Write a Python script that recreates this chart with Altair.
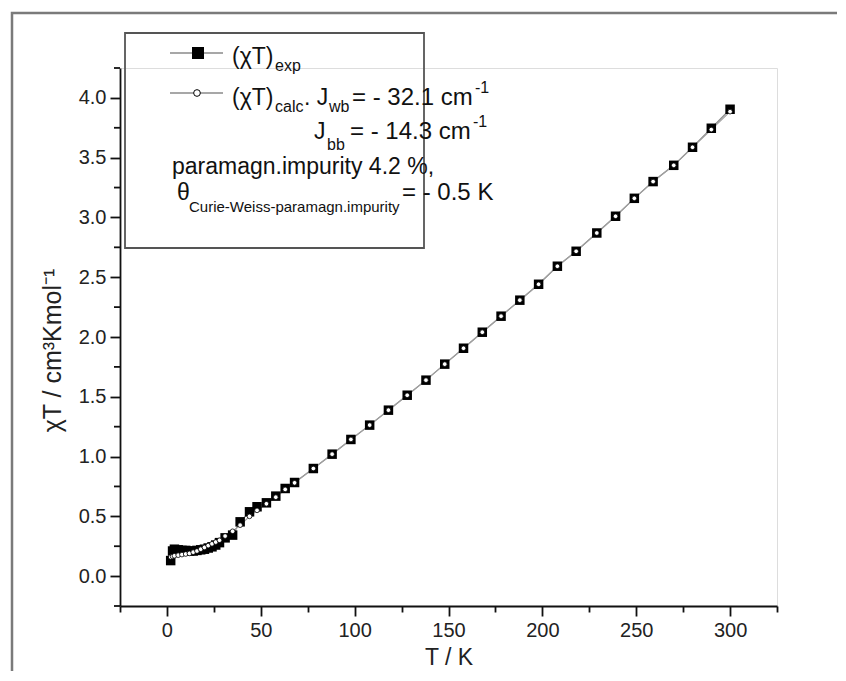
import altair as alt
import pandas as pd

# ---------------- data ----------------
T_K = [2, 3, 4, 6, 8, 10, 12, 14, 16, 18, 20, 22, 24, 26, 28, 31, 35, 39, 44, 48,
       53, 58, 63, 68, 78, 88, 98, 108, 118, 128, 138, 148, 158, 168, 178, 188,
       198, 208, 218, 229, 239, 249, 259, 270, 280, 290, 300]
chiT_exp = [0.13, 0.21, 0.225, 0.22, 0.215, 0.215, 0.21, 0.21, 0.215, 0.22, 0.225,
            0.235, 0.245, 0.26, 0.28, 0.32, 0.343, 0.454, 0.538, 0.58, 0.613, 0.669,
            0.733, 0.783, 0.900, 1.020, 1.143, 1.263, 1.388, 1.513, 1.639, 1.773,
            1.906, 2.040, 2.174, 2.308, 2.441, 2.592, 2.717, 2.87, 3.01, 3.16, 3.30,
            3.436, 3.587, 3.746, 3.905]
chiT_calc = [0.16, 0.165, 0.17, 0.175, 0.18, 0.185, 0.19, 0.20, 0.21, 0.225, 0.24,
             0.255, 0.27, 0.285, 0.30, 0.335, 0.375, 0.426, 0.50, 0.55, 0.605, 0.66,
             0.725, 0.78, 0.900, 1.020, 1.143, 1.263, 1.388, 1.513, 1.639, 1.773,
             1.906, 2.040, 2.174, 2.308, 2.441, 2.592, 2.717, 2.87, 3.01, 3.16, 3.30,
             3.436, 3.587, 3.735, 3.885]

x_ticks = [-25 + 25 * i for i in range(15)]
y_major = [0.5 * i for i in range(9)]
y_minor = [-0.25 + 0.5 * i for i in range(10)]

FONT = "Liberation Sans"
W, H = 657, 538

df = pd.DataFrame({"T": T_K, "exp": chiT_exp, "calc": chiT_calc})
dummy = pd.DataFrame({"a": [0]})
minor_df = pd.DataFrame({"v": y_minor})

xenc = alt.X("T:Q",
             scale=alt.Scale(domain=[-25, 325], nice=False, zero=False),
             axis=alt.Axis(values=x_ticks, grid=False, title="T / K",
                           labelExpr="datum.value >= 0 && datum.value % 50 == 0 ? datum.label : ''",
                           format="d",
                           tickSize={"condition": {"test": "datum.value % 50 == 0", "value": 10}, "value": 6},
                           labelFont=FONT, labelFontSize=20, labelColor="#222",
                           labelPadding=4, labelFlush=False, labelOverlap=False,
                           titleFont=FONT, titleFontSize=23, titleFontWeight="normal",
                           titleColor="#222", titleX=W / 2, titleY=58,
                           titleBaseline="alphabetic", titleAlign="center",
                           domainColor="#111", domainWidth=1.8,
                           tickColor="#111", tickWidth=1.8))

yaxis = alt.Axis(values=y_major, grid=False, title="χT / cm³Kmol⁻¹", format=".1f",
                 tickSize=10,
                 labelFont=FONT, labelFontSize=20, labelColor="#222",
                 labelPadding=4, labelFlush=False, labelOverlap=False,
                 titleFont=FONT, titleFontSize=25, titleFontWeight="normal",
                 titleColor="#222", titleX=-68, titleY=282, titleAngle=270,
                 titleBaseline="middle", titleAlign="center",
                 domainColor="#111", domainWidth=1.8,
                 tickColor="#111", tickWidth=1.8)

yscale = alt.Scale(domain=[-0.25, 4.25], nice=False, zero=False)

base = alt.Chart(df)
line_exp = base.mark_line(color="#8a8a8a", strokeWidth=1.2).encode(
    x=xenc, y=alt.Y("exp:Q", scale=yscale, axis=yaxis), order="T:Q")
line_calc = base.mark_line(color="#a0a0a0", strokeWidth=1.2).encode(
    x="T:Q", y="calc:Q", order="T:Q")
pts_exp = base.mark_point(shape="square", filled=True, color="#000", size=90, opacity=1).encode(
    x="T:Q", y="exp:Q")
pts_calc = base.mark_point(shape="circle", filled=True, fill="#fff", stroke="#000",
                           strokeWidth=0.8, size=22, opacity=1).encode(
    x="T:Q", y="calc:Q")

# minor ticks on the y axis (positioned by the y scale)
y_minor_ticks = alt.Chart(minor_df).mark_tick(orient="horizontal", size=6, thickness=1.8,
                                              color="#111", opacity=1).encode(
    y=alt.Y("v:Q"), x=alt.value(-3))

OX, OY = 120, 68  # page position of plot origin


def px(x):
    return x - OX


def py(y):
    return y - OY


def txt(s, x, y, size=23):
    return alt.Chart(dummy).mark_text(text=s, font=FONT, fontSize=size, align="left",
                                      baseline="alphabetic", color="#111").encode(
        x=alt.value(px(x)), y=alt.value(py(y)))


frame = alt.Chart(dummy).mark_rect(fill=None, stroke="#7a7a7a", strokeWidth=2.5).encode(
    x=alt.value(px(12)), y=alt.value(py(13)), x2=alt.value(px(900)), y2=alt.value(py(720)))
legbox = alt.Chart(dummy).mark_rect(fill=None, stroke="#555", strokeWidth=1.8).encode(
    x=alt.value(px(125)), y=alt.value(py(33)), x2=alt.value(px(424)), y2=alt.value(py(248)))

leg_l1 = alt.Chart(dummy).mark_rule(color="#8a8a8a", strokeWidth=1.5).encode(
    x=alt.value(px(170)), x2=alt.value(px(223)), y=alt.value(py(53)))
leg_l2 = alt.Chart(dummy).mark_rule(color="#8a8a8a", strokeWidth=1.5).encode(
    x=alt.value(px(170)), x2=alt.value(px(223)), y=alt.value(py(93)))
leg_s1 = alt.Chart(dummy).mark_point(shape="square", filled=True, color="#000", size=144, opacity=1).encode(
    x=alt.value(px(198)), y=alt.value(py(53)))
leg_s2 = alt.Chart(dummy).mark_point(shape="circle", filled=True, fill="#fff", stroke="#000",
                                     strokeWidth=1, size=45, opacity=1).encode(
    x=alt.value(px(197)), y=alt.value(py(93)))

texts = [
    txt("(χT)", 232, 64), txt("exp", 275, 71, 16),
    txt("(χT)", 232, 105), txt("calc", 275, 112, 16), txt(". J", 304, 105),
    txt("wb", 329, 112, 16), txt("= - 32.1 cm", 352, 105, 24), txt("-1", 475, 93, 16),
    txt("J", 314, 139), txt("bb", 327, 150, 16), txt("= - 14.3 cm", 350, 139, 24),
    txt("-1", 473, 127, 16),
    txt("paramagn.impurity 4.2 %,", 172, 174),
    txt("θ", 177, 200), txt("Curie-Weiss-paramagn.impurity", 189, 212, 15),
    txt("= - 0.5 K", 402, 200, 24),
]

chart = alt.layer(line_exp, line_calc, pts_exp, pts_calc, y_minor_ticks, frame, legbox,
                  leg_l1, leg_l2, leg_s1, leg_s2, *texts).properties(
    width=W, height=H,
    autosize=alt.AutoSizeParams(type="none"),
    padding={"left": 112, "top": 60, "right": 60, "bottom": 65},
).configure_view(stroke=None).configure(background="white")

chart.save("out.html", embed_options={"renderer": "svg", "actions": False})
